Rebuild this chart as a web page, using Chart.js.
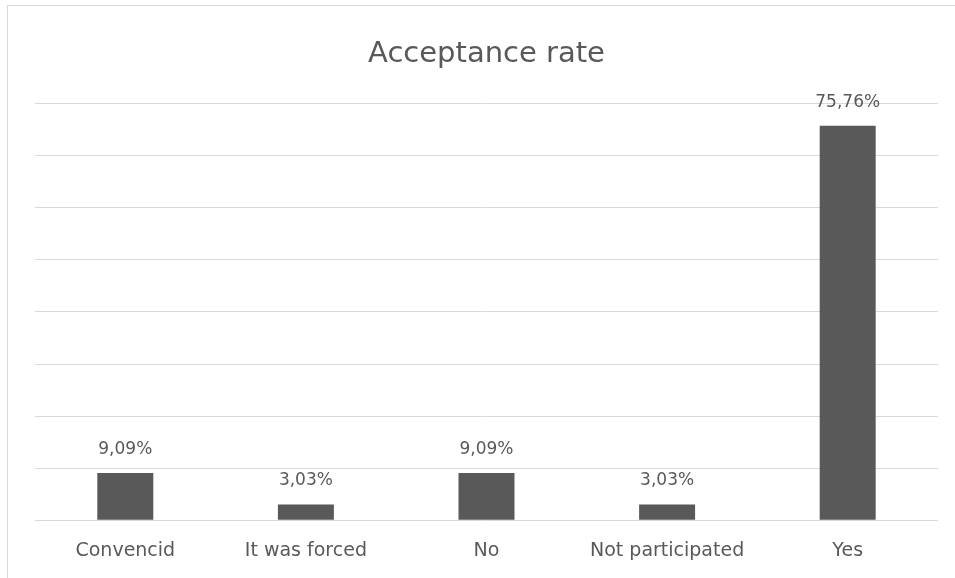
<!DOCTYPE html>
<html>
<head>
<meta charset="utf-8">
<script src="https://cdn.jsdelivr.net/npm/chart.js@4"></script>
<style>
    html, body { margin: 0; padding: 0; background: #fff; }
    #marco {
        position: absolute; left: 7px; top: 5px; width: 947px; height: 572px;
        border-left: 1px solid #d9d9d9; border-top: 1px solid #d9d9d9;
    }
</style>
</head>
<body>
<div id="marco"><canvas id="barChart" width="947" height="572"></canvas></div>
<script>
const categorias = ["Convencid", "It was forced", "No", "Not participated", "Yes"];
const porcentajes = [9.09, 3.03, 9.09, 3.03, 75.76];
const titulo = "Acceptance rate";

const gris = "#595959";
const fuente = "'DejaVu Sans', sans-serif";

// Etiquetas de valor encima de cada barra
const etiquetasBarras = {
    id: "etiquetasBarras",
    afterDatasetsDraw(chart) {
        const ctx = chart.ctx;
        const meta = chart.getDatasetMeta(0);
        ctx.save();
        ctx.fillStyle = gris;
        ctx.font = "17px " + fuente;
        ctx.textAlign = "center";
        ctx.textBaseline = "alphabetic";
        meta.data.forEach((barra, i) => {
            const texto = porcentajes[i].toFixed(2).replace(".", ",") + "%";
            ctx.fillText(texto, barra.x, barra.y - 19);
        });
        ctx.restore();
    }
};

new Chart(document.getElementById("barChart"), {
    type: "bar",
    data: {
        labels: categorias,
        datasets: [{
            data: porcentajes,
            backgroundColor: gris,
            categoryPercentage: 1,
            barPercentage: 0.31
        }]
    },
    options: {
        responsive: false,
        animation: false,
        layout: { padding: { left: 27, right: 17, top: 0, bottom: 5 } },
        plugins: {
            legend: { display: false },
            tooltip: { enabled: false },
            title: {
                display: true,
                text: titulo,
                color: gris,
                font: { family: fuente, size: 29, weight: "normal" },
                padding: { top: 31, bottom: 32 }
            }
        },
        scales: {
            x: {
                grid: { display: false },
                border: { display: false },
                ticks: { color: gris, font: { family: fuente, size: 19 }, padding: 11 }
            },
            y: {
                min: 0, max: 80,
                ticks: { display: false, stepSize: 10 },
                grid: { color: "#d9d9d9", drawTicks: false },
                border: { display: false }
            }
        }
    },
    plugins: [etiquetasBarras]
});
</script>
</body>
</html>
